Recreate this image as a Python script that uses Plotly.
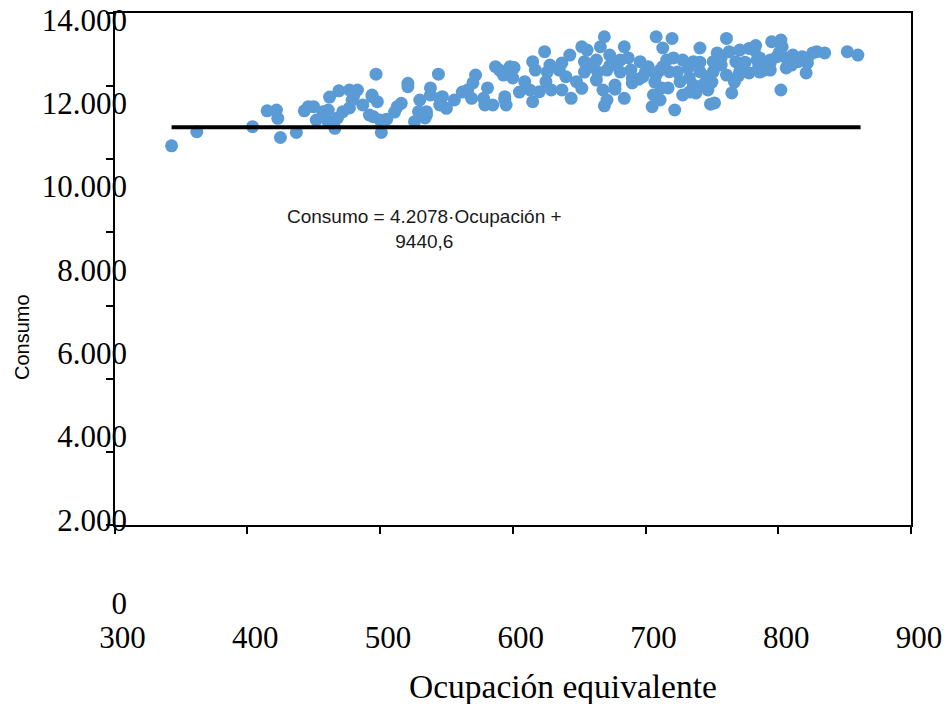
import plotly.graph_objects as go

# ---- data ----
ocupacion = [343, 362, 404, 415, 422, 423, 425, 437, 443, 446, 450, 452, 457, 460, 462, 461, 466, 469, 468,
             472, 480, 487, 494, 495, 501, 500, 505, 513, 516, 526, 529, 535, 538, 545, 550,
             477, 483, 479, 497, 494, 498, 492, 521, 521, 535, 534, 538, 544, 547, 545,
             566, 572, 570, 569, 578, 581, 579, 587, 585, 593, 594, 595, 598, 590, 601, 594, 600,
             609, 615, 617, 624, 628, 620, 615, 625, 629, 637, 643, 637, 640, 644, 648, 652, 652,
             656, 658, 654, 663, 663, 666, 669, 673, 671, 668, 671, 675, 677, 684, 681, 684, 687,
             689, 690, 696, 698, 702, 705, 706, 708, 711, 713, 716, 717,
             720, 721, 728, 718, 708, 722, 728, 738, 741, 736, 741, 746, 747, 752, 754, 761, 763,
             765, 768, 771, 778, 778, 784, 732, 713, 757, 751, 771, 761, 751, 726, 743, 736,
             782, 786, 795, 802, 803, 785, 790, 794, 799, 806, 811, 810, 806, 815, 818, 822, 826,
             829, 835, 822, 821, 852, 860, 802, 794,
             783, 788, 770, 749, 669, 677, 695,
             700, 707, 712, 724, 733, 741, 750, 757, 767, 775, 786, 681, 690, 673, 664, 654,
             635, 626, 613, 605, 556, 562, 530, 511, 477, 711, 733, 794, 801]
consumo = [10980, 11320, 11440, 11820, 11840, 11640, 11180, 11300, 11820, 11920, 11920, 11600, 11800, 11600, 12150, 11840, 11400, 12300, 11650,
           11800, 12160, 11960, 12160, 11680, 11300, 11600, 11620, 11920, 12000, 11560, 11800, 11720, 12200, 12120, 11880,
           12320, 12320, 12080, 12700, 12200, 12040, 11720, 12480, 12400, 11800, 11650, 12370, 12700, 12160, 11960,
           12320, 12680, 12490, 12120, 12120, 12370, 11960, 12880, 11960, 12680, 12160, 11960, 12880, 12800, 12860, 12080, 12610,
           12520, 13000, 12800, 13240, 12920, 12280, 12040, 12520, 12320, 12970, 13160, 12320, 12640, 12120, 12520, 12360, 13360,
           13280, 12880, 13000, 13040, 12560, 13360, 13600, 13160, 12800, 12320, 12080, 12970, 12440, 13360, 13040, 12120, 13090,
           12800, 12490, 13000, 12640, 12880, 11920, 12200, 13600, 12800, 13330, 13040, 12370,
           13560, 13090, 13040, 12760, 12680, 11840, 12200, 12250, 13330, 13000, 12760, 12640, 12320, 12010, 13210, 13560, 13240,
           12250, 13000, 13280, 13320, 12730, 13040, 12850, 12880, 12920, 12760, 12760, 12680, 13000, 12520, 12440, 12440,
           13280, 13090, 13480, 13520, 13360, 12850, 12850, 12970, 13120, 13090, 13160, 12920, 12850, 13000, 13120, 13090, 13210,
           13240, 13210, 12970, 12730, 13240, 13160, 12320, 12800,
           13390, 12780, 12660, 11980, 11940, 12340, 12580,
           12750, 12510, 12370, 12750, 12610, 12990, 12510, 13090, 12510, 12990, 12750, 12750, 12610, 12900, 12750, 12750,
           12800, 12750, 12320, 12270, 12080, 12270, 12080, 11790, 11890, 12080, 12270, 13040, 13230]

trend_x = [343, 862]
trend_y = [11425, 11425]

x_ticks = [300, 400, 500, 600, 700, 800, 900]
x_tick_text = ["300", "400", "500", "600", "700", "800", "900"]
y_ticks = [0, 2000, 4000, 6000, 8000, 10000, 12000, 14000]
y_tick_text = ["0", "2.000", "4.000", "6.000", "8.000", "10.000", "12.000", "14.000"]

equation_text = "Consumo = 4.2078·Ocupación +<br>9440,6"
x_title = "Ocupación equivalente"
y_title = "Consumo"

W, H = 945, 704

fig = go.Figure()
# frame axis pair (carries the box and the tick marks)
fig.add_trace(go.Scatter(x=[], y=[], xaxis="x", yaxis="y2", showlegend=False, hoverinfo="skip"))
fig.add_trace(go.Scatter(x=ocupacion, y=consumo, mode="markers",
                         marker=dict(color="#5B9BD5", size=13, line=dict(width=0)),
                         xaxis="x", yaxis="y", showlegend=False, cliponaxis=False))
fig.add_trace(go.Scatter(x=trend_x, y=trend_y, mode="lines",
                         line=dict(color="black", width=4),
                         xaxis="x", yaxis="y", showlegend=False))

serif = "Liberation Serif"
sans = "Liberation Sans"

fig.update_layout(
    width=W, height=H,
    margin=dict(l=0, r=0, t=0, b=0, autoexpand=False),
    paper_bgcolor="white", plot_bgcolor="rgba(0,0,0,0)",
    showlegend=False,
    xaxis=dict(domain=[114.5 / W, 911 / W], range=[300, 900], anchor="y2",
               tickvals=x_ticks, ticktext=x_tick_text,
               ticks="outside", ticklen=7, tickwidth=1.5, tickcolor="black",
               showline=True, linecolor="black", linewidth=2, mirror=True,
               showgrid=False, zeroline=False, automargin=False,
               tickfont=dict(family=serif, size=31, color="black"),
               ticklabelstandoff=77, ticklabelshift=8),
    yaxis=dict(domain=[1 - 603 / H, 1 - 20 / H], range=[-2, 14002], anchor="free",
               position=127 / W, automargin=False,
               tickvals=y_ticks, ticktext=y_tick_text, ticks="",
               showline=False, showgrid=False, zeroline=False,
               tickfont=dict(family=serif, size=31, color="black")),
    yaxis2=dict(domain=[1 - 525 / H, 1 - 13 / H], range=[0, 14000], anchor="x",
                tickvals=y_ticks, ticks="outside", ticklen=7, tickwidth=1.5, tickcolor="black",
                showticklabels=False, automargin=False,
                showline=True, linecolor="black", linewidth=2, mirror=True,
                showgrid=False, zeroline=False),
    annotations=[
        dict(text=equation_text, xref="paper", yref="paper",
             x=424 / W, y=1 - 229 / H, xanchor="center", yanchor="middle",
             showarrow=False, align="center",
             font=dict(family=sans, size=19, color="#1a1a1a")),
        dict(text=x_title, xref="paper", yref="paper",
             x=563 / W, y=1 - 686 / H, xanchor="center", yanchor="middle",
             showarrow=False,
             font=dict(family=serif, size=33.5, color="black")),
        dict(text=y_title, xref="paper", yref="paper",
             x=22 / W, y=1 - 337 / H, xanchor="center", yanchor="middle",
             textangle=-90, showarrow=False,
             font=dict(family=sans, size=20, color="black")),
    ],
)

fig.write_html("out.html")
